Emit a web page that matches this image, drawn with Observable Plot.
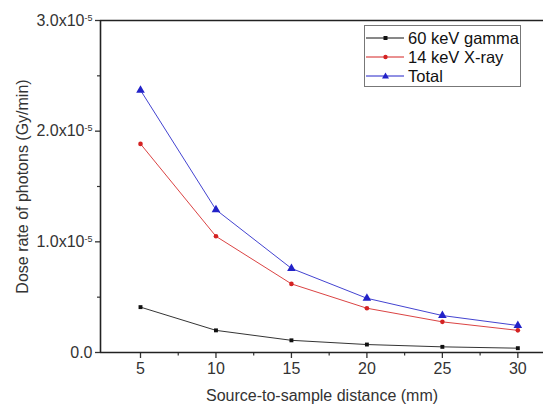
<!DOCTYPE html>
<html>
<head>
<meta charset="utf-8">
<script src="https://cdn.jsdelivr.net/npm/d3@7"></script>
<script src="https://cdn.jsdelivr.net/npm/@observablehq/plot@0.6"></script>
<style>
  html, body { margin: 0; padding: 0; background: #fff; }
  #wrap { position: relative; width: 543px; height: 405px; font-family: "Liberation Sans", Arial, sans-serif; }
  #legend { position: absolute; left: 364px; top: 25px; width: 155px; height: 60px; border: 1px solid #777; background: #fff; font-size: 16.5px; color: #111; }
  #legend .row { position: absolute; left: 0; height: 20px; display: flex; align-items: center; }
  #legend svg { display: block; }
</style>
</head>
<body>
<div id="wrap"></div>
<script>
// Data (values in Gy/min)
const distance = [5, 10, 15, 20, 25, 30];
const gamma60 = [0.41e-5, 0.20e-5, 0.11e-5, 0.072e-5, 0.051e-5, 0.039e-5];
const xray14 = [1.885e-5, 1.05e-5, 0.62e-5, 0.40e-5, 0.277e-5, 0.20e-5];
const total = [2.37e-5, 1.29e-5, 0.76e-5, 0.49e-5, 0.334e-5, 0.244e-5];
const seriesNames = ["60 keV gamma", "14 keV X-ray", "Total"];
const seriesColors = ["#111111", "#d42222", "#2222c8"];
const seriesSymbols = ["square", "circle", "triangle"];
const seriesR = [2.2, 2.3, 3.2];
const xTicks = [5, 10, 15, 20, 25, 30];
const xMinor = [7.5, 12.5, 17.5, 22.5, 27.5];
const yTicks = [0, 1e-5, 2e-5, 3e-5];
const yTickLabels = ["0.0", "1.0x10^-5", "2.0x10^-5", "3.0x10^-5"];
const yMinor = [0.5e-5, 1.5e-5, 2.5e-5];

const xDomain = [2.35, 31.7];
const yDomain = [0, 3e-5];

const allSeries = [gamma60, xray14, total];
const rows = [];
allSeries.forEach((vals, si) => vals.forEach((v, i) => rows.push({series: seriesNames[si], x: distance[i], y: v})));

const marks = [];
allSeries.forEach((vals, si) => {
  const data = rows.filter(d => d.series === seriesNames[si]);
  marks.push(Plot.line(data, {x: "x", y: "y", stroke: seriesColors[si], strokeWidth: 1, strokeOpacity: 0.85}));
});
allSeries.forEach((vals, si) => {
  const data = rows.filter(d => d.series === seriesNames[si]);
  marks.push(Plot.dot(data, {x: "x", y: "y", symbol: () => seriesSymbols[si], fill: seriesColors[si], stroke: "none", r: seriesR[si]}));
});

const chart = Plot.plot({
  width: 543,
  height: 405,
  marginLeft: 100,
  marginRight: 0,
  marginTop: 20,
  marginBottom: 53,
  style: {fontFamily: "'Liberation Sans', Arial, sans-serif", fontSize: "16px", color: "#333", background: "#fff", overflow: "visible"},
  x: {domain: xDomain, type: "linear"},
  y: {domain: yDomain, type: "linear"},
  symbol: {type: "identity"},
  marks: [
    Plot.axisX({ticks: xTicks, tickSize: 6, tickPadding: 4, tickFormat: d => String(d), strokeWidth: 1.3, label: "Source-to-sample distance (mm)", labelAnchor: "center", labelArrow: "none", labelOffset: 48, fontSize: 16}),
    Plot.axisX({ticks: xMinor, tickSize: 3.5, text: null, label: null, strokeWidth: 1.2}),
    Plot.axisY({ticks: yTicks, tickSize: 5, tickPadding: 3, tickFormat: (d) => yTickLabels[yTicks.indexOf(d)], strokeWidth: 1.3, label: "Dose rate of photons (Gy/min)", labelAnchor: "center", labelArrow: "none", labelOffset: 84, fontSize: 16}),
    Plot.axisY({ticks: yMinor, tickSize: 3, text: null, label: null, strokeWidth: 1.2}),
    Plot.ruleX([xDomain[0]], {stroke: "#222", strokeWidth: 1.6}),
    Plot.ruleY([yDomain[0]], {stroke: "#222", strokeWidth: 1.6}),
    Plot.ruleY([yDomain[1]], {stroke: "#222", strokeWidth: 1.6}),
    ...marks
  ]
});

// Render superscript exponents in y tick labels
chart.querySelectorAll('g[aria-label="y-axis tick label"] text').forEach(t => {
  const s = t.textContent;
  const idx = s.indexOf("^");
  if (idx >= 0) {
    const base = s.slice(0, idx), exp = s.slice(idx + 1);
    while (t.firstChild) t.removeChild(t.firstChild);
    t.appendChild(document.createTextNode(base));
    const ts = document.createElementNS("http://www.w3.org/2000/svg", "tspan");
    ts.setAttribute("dy", "-0.55em");
    ts.setAttribute("font-size", "9px");
    ts.textContent = exp;
    t.appendChild(ts);
  }
});

const wrap = document.getElementById("wrap");
wrap.appendChild(chart);

// Legend
const legend = document.createElement("div");
legend.id = "legend";
seriesNames.forEach((name, i) => {
  const row = document.createElement("div");
  row.className = "row";
  row.style.top = (2 + i * 19) + "px";
  const sym = seriesSymbols[i];
  let marker;
  if (sym === "square") marker = `<rect x="18.5" y="8" width="4" height="4" fill="${seriesColors[i]}"/>`;
  else if (sym === "circle") marker = `<circle cx="20.5" cy="10" r="2.2" fill="${seriesColors[i]}"/>`;
  else marker = `<path d="M20.5,6.5 L24,12.5 L17,12.5 Z" fill="${seriesColors[i]}"/>`;
  row.innerHTML = `<svg width="41" height="20"><line x1="1" x2="39" y1="10" y2="10" stroke="${seriesColors[i]}" stroke-width="1"/>${marker}</svg><span style="margin-left:2px">${name}</span>`;
  legend.appendChild(row);
});
wrap.appendChild(legend);
</script>
</body>
</html>
